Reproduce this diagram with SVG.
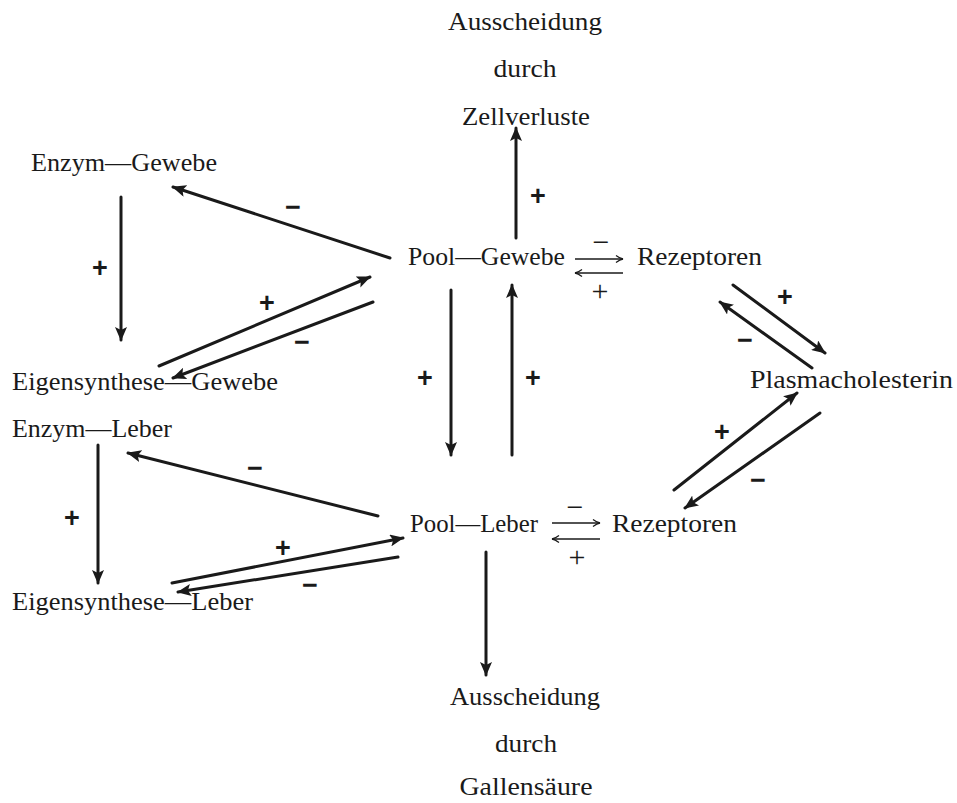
<svg xmlns="http://www.w3.org/2000/svg" width="957" height="803" viewBox="0 0 957 803">
<defs>
<marker id="ah" markerUnits="userSpaceOnUse" markerWidth="14" markerHeight="12" viewBox="0 0 14 12" refX="13" refY="6" orient="auto">
<path d="M0,0 L14,6 L0,12 L3,6 Z" fill="#1a1a1a"/>
</marker>
<marker id="thin" markerUnits="userSpaceOnUse" markerWidth="10" markerHeight="10" viewBox="0 0 10 10" refX="9" refY="5" orient="auto">
<path d="M2,1.5 Q6,4.5 9,5 Q6,5.5 2,8.5" fill="none" stroke="#1a1a1a" stroke-width="1.3"/>
</marker>
<style>
.t{font-family:"Liberation Serif","Times New Roman",serif;font-size:26px;fill:#1a1a1a}
.c{text-anchor:middle}
.s{font-family:"Liberation Serif","Times New Roman",serif;font-size:30px;fill:#1a1a1a;text-anchor:middle}
.h{font-family:"Liberation Sans",Arial,sans-serif;font-weight:bold;font-size:27px;fill:#1a1a1a;text-anchor:middle}
.a{stroke:#1a1a1a;stroke-width:3;fill:none;stroke-linecap:round;marker-end:url(#ah)}
.n{stroke:#1a1a1a;stroke-width:1.4;fill:none;marker-end:url(#thin)}
</style>
</defs>
<rect width="957" height="803" fill="#ffffff"/>

<g id="node-zellverluste">
<text class="t c" x="525" y="30" textLength="154" lengthAdjust="spacingAndGlyphs">Ausscheidung</text>
<text class="t c" x="525" y="77" textLength="63" lengthAdjust="spacingAndGlyphs">durch</text>
<text class="t c" x="526" y="125" textLength="128" lengthAdjust="spacingAndGlyphs">Zellverluste</text>
</g>
<g id="node-enzym-gewebe">
<text class="t" x="31" y="171" textLength="186" lengthAdjust="spacingAndGlyphs">Enzym—Gewebe</text>
</g>
<g id="node-pool-gewebe">
<text class="t" x="408" y="265" textLength="157" lengthAdjust="spacingAndGlyphs">Pool—Gewebe</text>
</g>
<g id="node-rezeptoren-gewebe">
<text class="t" x="637" y="265" textLength="125" lengthAdjust="spacingAndGlyphs">Rezeptoren</text>
</g>
<g id="node-eigensynthese-gewebe">
<text class="t" x="12" y="390" textLength="266" lengthAdjust="spacingAndGlyphs">Eigensynthese—Gewebe</text>
</g>
<g id="node-plasmacholesterin">
<text class="t" x="750" y="388" textLength="203" lengthAdjust="spacingAndGlyphs">Plasmacholesterin</text>
</g>
<g id="node-enzym-leber">
<text class="t" x="12" y="437" textLength="160" lengthAdjust="spacingAndGlyphs">Enzym—Leber</text>
</g>
<g id="node-pool-leber">
<text class="t" x="410" y="532" textLength="128" lengthAdjust="spacingAndGlyphs">Pool—Leber</text>
</g>
<g id="node-rezeptoren-leber">
<text class="t" x="612" y="532" textLength="125" lengthAdjust="spacingAndGlyphs">Rezeptoren</text>
</g>
<g id="node-eigensynthese-leber">
<text class="t" x="12" y="610" textLength="241" lengthAdjust="spacingAndGlyphs">Eigensynthese—Leber</text>
</g>
<g id="node-gallensaeure">
<text class="t c" x="525" y="705" textLength="150" lengthAdjust="spacingAndGlyphs">Ausscheidung</text>
<text class="t c" x="526" y="752" textLength="62" lengthAdjust="spacingAndGlyphs">durch</text>
<text class="t c" x="526" y="795" textLength="133" lengthAdjust="spacingAndGlyphs">Gallensäure</text>
</g>

<g id="connectors">
<line class="a" x1="516" y1="238" x2="516" y2="128"/>
<line class="a" x1="121" y1="197" x2="121" y2="340"/>
<line class="a" x1="390" y1="258" x2="173" y2="187"/>
<line class="a" x1="159" y1="366" x2="370" y2="277"/>
<line class="a" x1="373" y1="302" x2="173" y2="378"/>
<line class="a" x1="451" y1="290" x2="451" y2="455"/>
<line class="a" x1="512" y1="455" x2="512" y2="285"/>
<line class="a" x1="733" y1="285" x2="825" y2="353"/>
<line class="a" x1="812" y1="368" x2="720" y2="302"/>
<line class="a" x1="674" y1="490" x2="797" y2="393"/>
<line class="a" x1="820" y1="413" x2="685" y2="508"/>
<line class="a" x1="98" y1="445" x2="98" y2="583"/>
<line class="a" x1="378" y1="516" x2="128" y2="453"/>
<line class="a" x1="172" y1="583" x2="403" y2="538"/>
<line class="a" x1="398" y1="557" x2="178" y2="592"/>
<line class="a" x1="486" y1="552" x2="486" y2="675"/>
<line class="n" x1="575" y1="259" x2="623" y2="259"/>
<line class="n" x1="623" y1="273" x2="575" y2="273"/>
<line class="n" x1="552" y1="523" x2="600" y2="523"/>
<line class="n" x1="600" y1="539" x2="552" y2="539"/>
</g>

<g id="labels">
<text class="s" x="601" y="252">−</text>
<text class="s" x="600" y="301">+</text>
<text class="s" x="575" y="517">−</text>
<text class="s" x="577" y="567">+</text>
<text class="h" x="538" y="205">+</text>
<text class="h" x="100" y="277">+</text>
<text class="h" x="293" y="216">−</text>
<text class="h" x="267" y="312">+</text>
<text class="h" x="302" y="351">−</text>
<text class="h" x="425" y="387">+</text>
<text class="h" x="533" y="387">+</text>
<text class="h" x="785" y="306">+</text>
<text class="h" x="745" y="349">−</text>
<text class="h" x="722" y="441">+</text>
<text class="h" x="758" y="489">−</text>
<text class="h" x="72" y="527">+</text>
<text class="h" x="255" y="477">−</text>
<text class="h" x="283" y="557">+</text>
<text class="h" x="310" y="594">−</text>
</g>
</svg>
